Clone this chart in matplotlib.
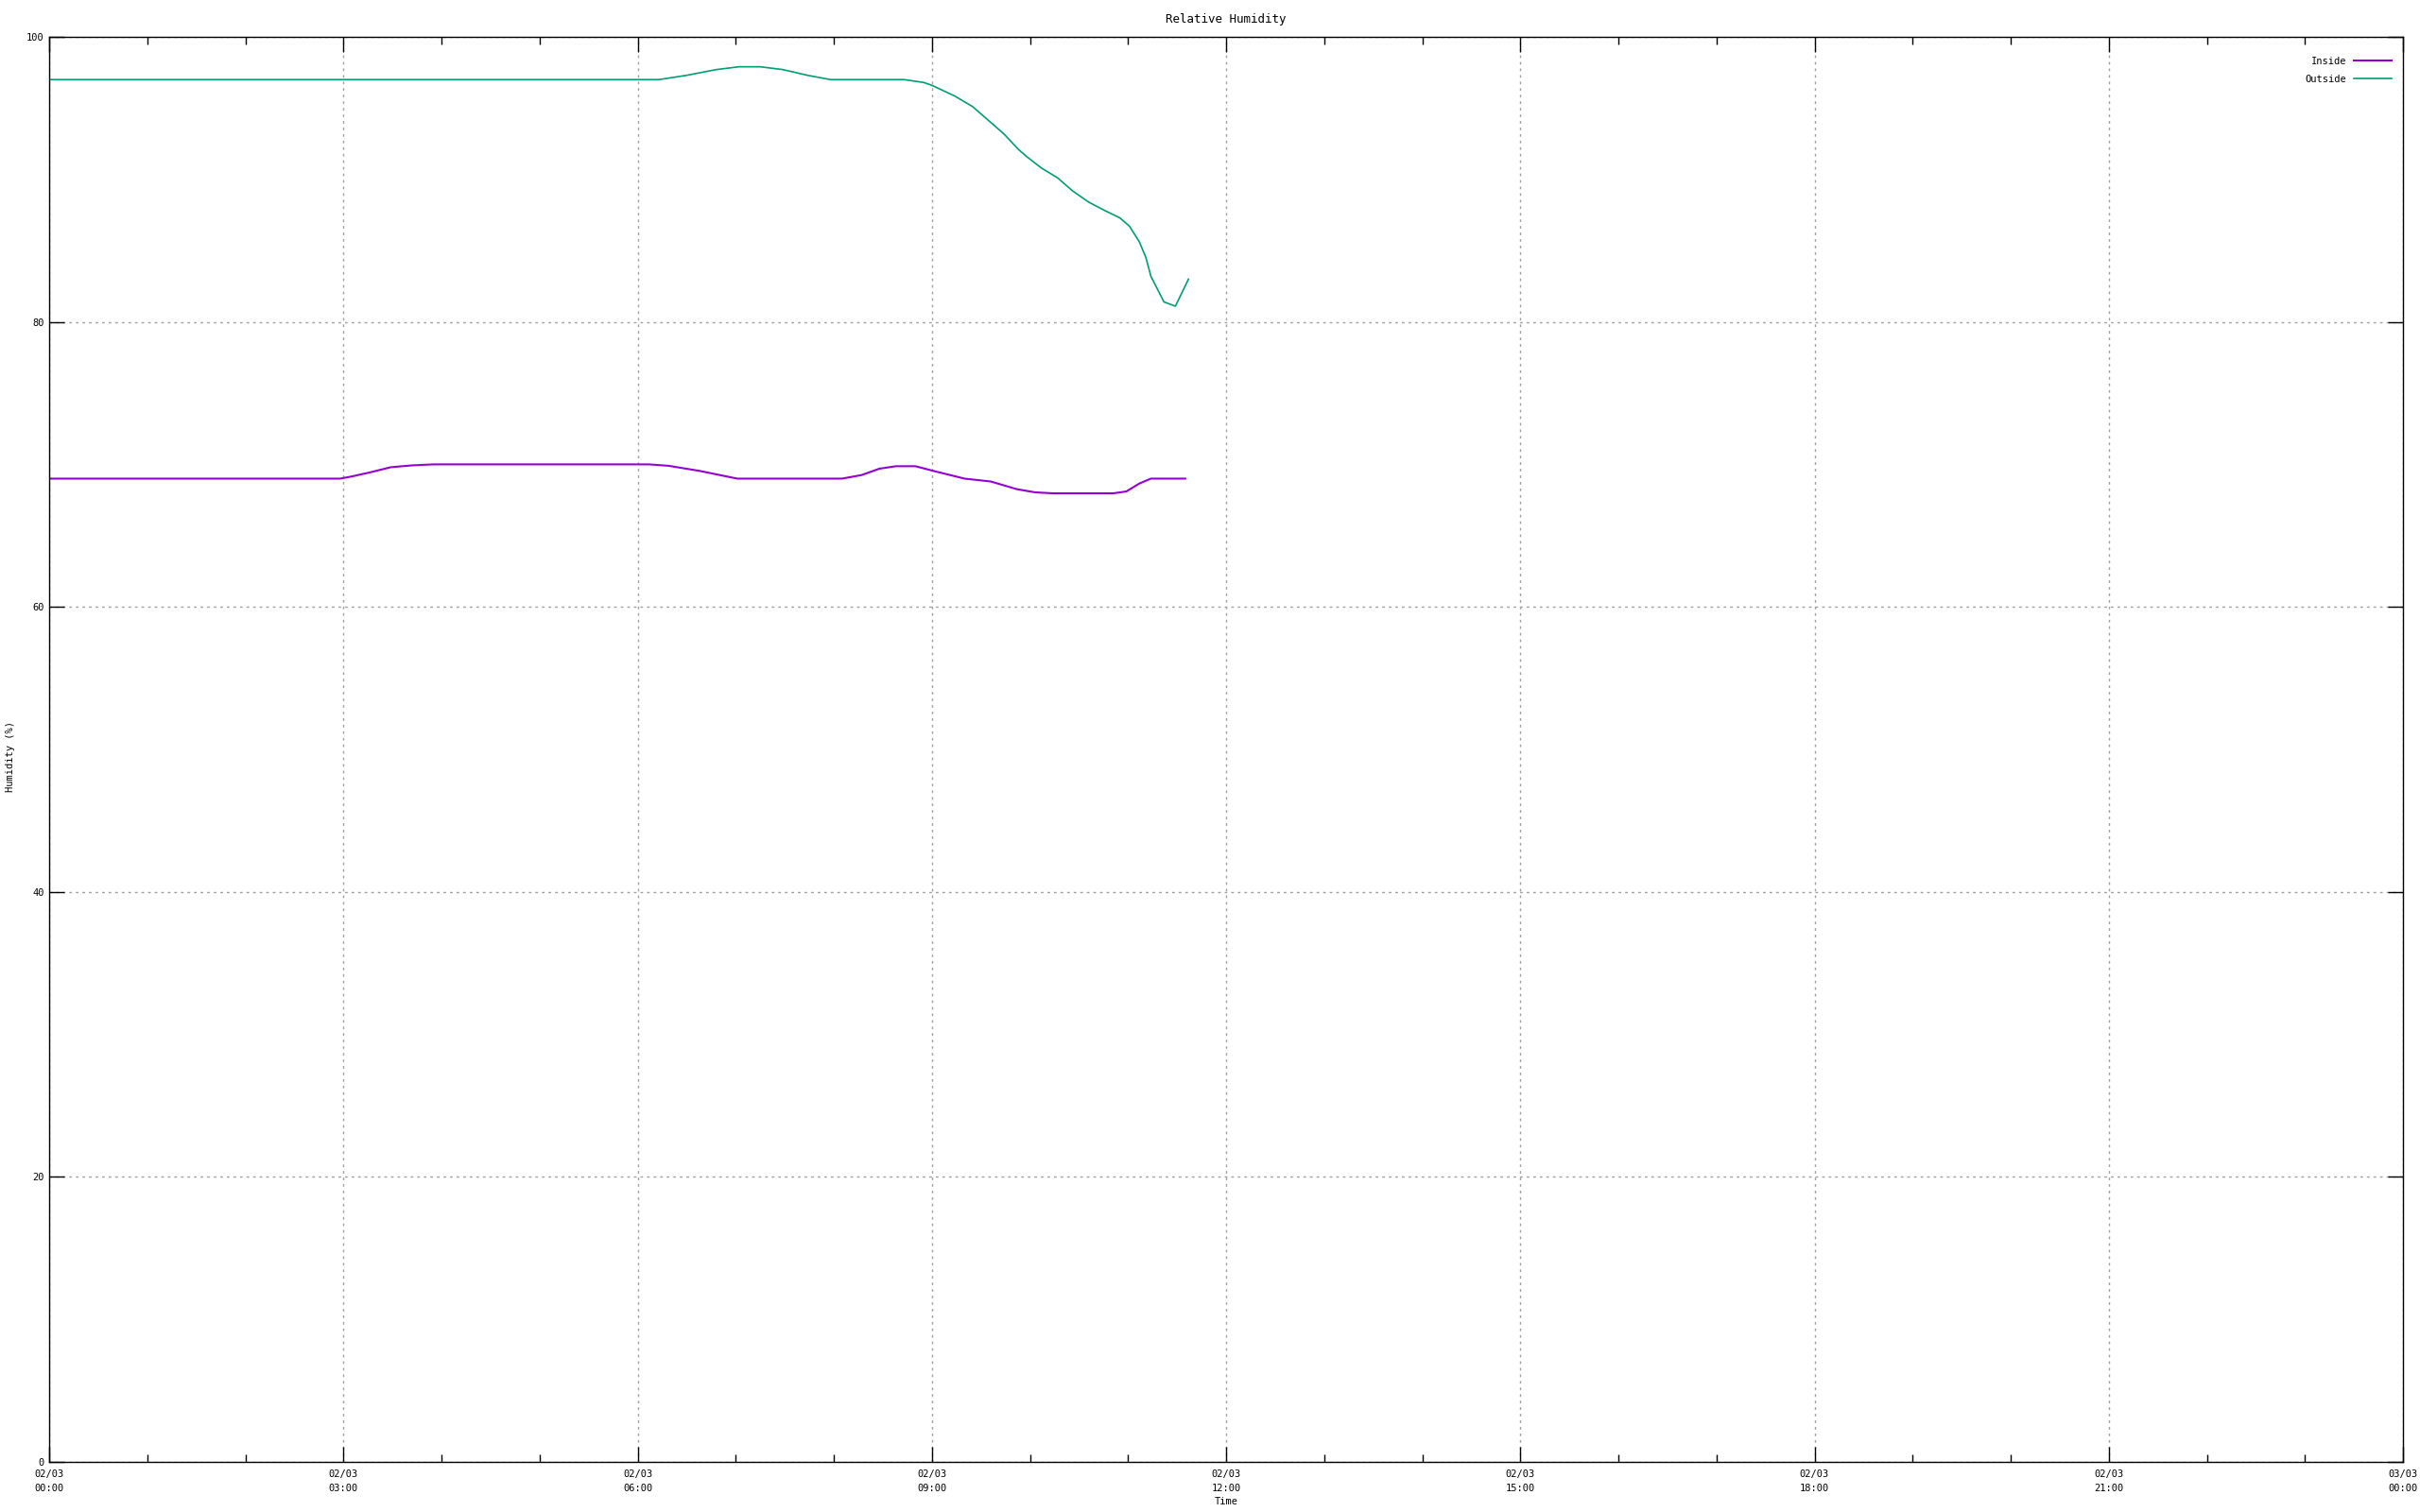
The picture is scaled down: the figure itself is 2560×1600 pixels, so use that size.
import matplotlib
matplotlib.use("Agg")
import matplotlib.pyplot as plt
import matplotlib.dates as mdates
import pandas as pd

# Humidity readings for 02/03
day = "2019-03-02 "

outside_times = ["00:00", "06:13", "06:30", "06:48", "07:02", "07:15", "07:29",
                 "07:44", "07:58", "08:43", "08:55", "09:00", "09:14", "09:25",
                 "09:34", "09:44", "09:53", "09:58", "10:07", "10:17", "10:26",
                 "10:36", "10:46", "10:55", "11:01", "11:07", "11:11", "11:14",
                 "11:22", "11:29", "11:37"]
outside_rh = [97.0, 97.0, 97.3, 97.7, 97.9, 97.9, 97.7,
              97.3, 97.0, 97.0, 96.8, 96.6, 95.85, 95.1,
              94.2, 93.2, 92.1, 91.6, 90.8, 90.1, 89.2,
              88.4, 87.8, 87.3, 86.7, 85.6, 84.5, 83.2,
              81.4, 81.1, 83.0]

inside_times = ["00:00", "02:58", "03:05", "03:16", "03:29", "03:42", "03:55",
                "06:07", "06:19", "06:38", "06:55", "07:01", "08:05", "08:17",
                "08:28", "08:38", "08:50", "09:01", "09:20", "09:36", "09:52",
                "10:03", "10:14", "10:51", "10:59", "11:07", "11:14", "11:35"]
inside_rh = [69.0, 69.0, 69.15, 69.43, 69.8, 69.93, 70.0,
             70.0, 69.9, 69.54, 69.14, 69.0, 69.0, 69.25,
             69.7, 69.87, 69.87, 69.54, 69.0, 68.8, 68.26,
             68.04, 67.97, 67.97, 68.1, 68.66, 69.0, 69.0]

y_ticks = [0, 20, 40, 60, 80, 100]

t_out = pd.to_datetime([day + t for t in outside_times])
t_in = pd.to_datetime([day + t for t in inside_times])

plt.rcParams['font.family'] = ['DejaVu Sans Mono']
plt.rcParams['font.size'] = 7.5

fig = plt.figure(figsize=(25.6, 16), dpi=100)
ax = fig.add_axes([52/2560, 1 - 1547/1600, (2542 - 52)/2560, (1547 - 39)/1600])

ax.plot(t_in, inside_rh, color='#9400d3', lw=1.5, label='Inside')
ax.plot(t_out, outside_rh, color='#009e73', lw=1.2, label='Outside')

# x axis: one full day, labels every 3 hours, minor ticks every hour
ax.set_xlim(pd.Timestamp(day + "00:00"), pd.Timestamp("2019-03-03 00:00"))
ax.xaxis.set_major_locator(mdates.HourLocator(byhour=range(0, 24, 3)))
ax.xaxis.set_minor_locator(mdates.HourLocator())
ax.xaxis.set_major_formatter(mdates.DateFormatter("%d/%m\n%H:%M"))

ax.set_ylim(0, 100)
ax.set_yticks(y_ticks)

ax.tick_params(which='both', direction='in', top=True, right=True, width=1)
ax.tick_params(which='major', length=11.5)
ax.tick_params(which='minor', length=6)
ax.tick_params(axis='x', which='major', pad=6)
ax.tick_params(axis='y', which='major', pad=4)
for lab in ax.get_xticklabels():
    lab.set_linespacing(1.6)

ax.grid(True, which='major', color='#a0a0a0', linestyle=(0, (2, 3)), lw=1)
for s in ax.spines.values():
    s.set_linewidth(1)

ax.set_title("Relative Humidity", pad=11)
ax.set_xlabel("Time", labelpad=3)
fig.text(11/2560, 0.5, "Humidity (%)", rotation=90, ha='center', va='center')

ax.legend(loc='upper right', bbox_to_anchor=(0.997, 0.989), frameon=False,
          markerfirst=False, handlelength=3.9, handletextpad=0.7,
          borderaxespad=0, labelspacing=0.85)

fig.savefig("out.png", dpi=100)
